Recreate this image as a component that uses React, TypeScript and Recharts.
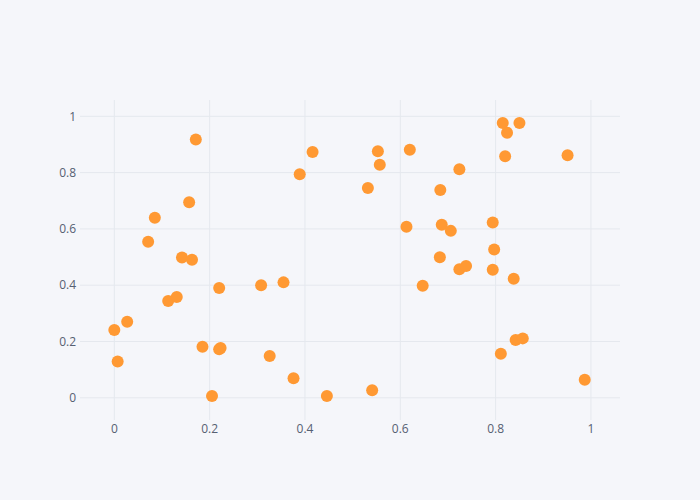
import React from 'react';
import { ScatterChart, Scatter, XAxis, YAxis, CartesianGrid } from 'recharts';

// point coordinates
const xValues = [
  0.171, 0.416, 0.389, 0.157, 0.085, 0.071, 0.142, 0.163,
  0.815, 0.850, 0.824, 0.553, 0.620, 0.557, 0.820, 0.951, 0.724, 0.532, 0.684,
  0.613, 0.687, 0.706, 0.794, 0.797, 0.683,
  0.220, 0.308, 0.355, 0.113, 0.131, 0.000, 0.027, 0.007, 0.185, 0.220, 0.223,
  0.326, 0.376, 0.205, 0.446,
  0.724, 0.738, 0.794, 0.838, 0.647, 0.842, 0.857, 0.811, 0.987, 0.541,
];
const yValues = [
  0.918, 0.873, 0.794, 0.695, 0.640, 0.554, 0.498, 0.490,
  0.976, 0.976, 0.942, 0.876, 0.881, 0.828, 0.858, 0.862, 0.812, 0.745, 0.738,
  0.608, 0.615, 0.593, 0.623, 0.527, 0.499,
  0.390, 0.400, 0.410, 0.344, 0.358, 0.241, 0.270, 0.129, 0.181, 0.172, 0.177,
  0.148, 0.069, 0.006, 0.006,
  0.457, 0.468, 0.455, 0.423, 0.398, 0.205, 0.211, 0.156, 0.064, 0.027,
];
const tickValues = [0, 0.2, 0.4, 0.6, 0.8, 1];

const points = xValues.map((x, i) => ({ x, y: yValues[i] }));

const tickStyle = { fontSize: 12, fill: '#566072', fontFamily: '"Open Sans", sans-serif' };

const Dot = (props: any) => <circle cx={props.cx} cy={props.cy} r={6} fill="#ff9933" />;

export default function App() {
  return (
    <div style={{ position: 'absolute', left: 0, top: 0, width: 700, height: 500, background: '#f5f6fa' }}>
      <ScatterChart width={700} height={500} margin={{ top: 100, right: 80, bottom: 0, left: 0 }}>
        <CartesianGrid stroke="#e5e8ee" strokeWidth={1} syncWithTicks />
        <XAxis
          type="number"
          dataKey="x"
          domain={[-0.072, 1.061]}
          ticks={tickValues}
          axisLine={false}
          tickLine={false}
          tickSize={0}
          tickMargin={4}
          height={80}
          tick={tickStyle}
        />
        <YAxis
          type="number"
          dataKey="y"
          domain={[-0.079, 1.058]}
          ticks={tickValues}
          axisLine={false}
          tickLine={false}
          tickSize={0}
          tickMargin={4}
          width={80}
          tick={tickStyle}
        />
        <Scatter data={points} shape={Dot} isAnimationActive={false} />
      </ScatterChart>
    </div>
  );
}
